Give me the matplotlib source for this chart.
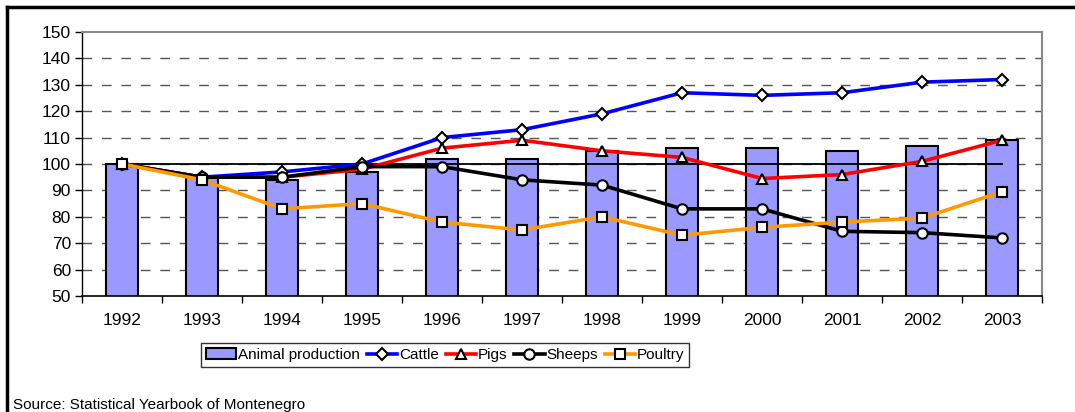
import matplotlib
matplotlib.use("Agg")
import matplotlib.pyplot as plt
from matplotlib.lines import Line2D
import numpy as np

# Дані з діаграми
years = ["1992", "1993", "1994", "1995", "1996", "1997", "1998", "1999", "2000", "2001", "2002", "2003"]
animal_production = [100, 95, 94, 97, 102, 102, 105, 106, 106, 105, 107, 109]
cattle = [100, 95, 97, 100, 110, 113, 119, 127, 126, 127, 131, 132]
pigs = [100, 95, 95, 98, 106, 109, 105, 102.5, 94.5, 96, 101, 109]
sheeps = [100, 95, 95, 99, 99, 94, 92, 83, 83, 74.5, 74, 72]
poultry = [100, 94, 83, 85, 78, 75, 80, 73, 76, 78, 79.5, 89.5]
base_line = [100] * len(years)

plt.rcParams['font.family'] = ['Liberation Sans', 'DejaVu Sans']

fig = plt.figure(figsize=(10.75, 4.12), dpi=100)
ax = fig.add_axes([0.0763, 0.2816, 0.8930, 0.6407])

x = np.arange(len(years))

bars = ax.bar(x, animal_production, width=0.4, color="#9999FF", edgecolor="black",
              linewidth=1.5, label="Animal production", zorder=2)
ax.plot(x, base_line, color="black", linewidth=1.3, zorder=3)

series = [
    (cattle, "#0000FF", "D", 6, "Cattle"),
    (pigs, "#FF0000", "^", 7.5, "Pigs"),
    (sheeps, "black", "o", 7.5, "Sheeps"),
    (poultry, "#FF9900", "s", 7.5, "Poultry"),
]
handles = [bars]
for vals, col, mk, ms, name in series:
    ln, = ax.plot(x, vals, color=col, linewidth=2.6, marker=mk, markersize=ms,
                  markerfacecolor="white", markeredgecolor="black", markeredgewidth=1.5,
                  label=name, zorder=4)
    handles.append(ln)

ax.set_xlim(-0.5, len(years) - 0.5)
ax.set_ylim(50, 150)
ax.set_yticks(range(50, 151, 10))
ax.set_xticks(x)
ax.set_xticklabels(years)
ax.set_xticks(np.arange(-0.5, len(years), 1), minor=True)
ax.tick_params(axis="x", which="major", length=0, pad=12, labelsize=12.5)
ax.tick_params(axis="x", which="minor", length=5, width=1, color="black", direction="out")
ax.tick_params(axis="y", length=5, width=1, direction="out", labelsize=12.5, pad=3)

for y in range(60, 150, 10):
    ax.axhline(y, color="#555555", linewidth=1, dashes=(7, 7), zorder=1)

ax.spines["top"].set_color("#888888")
ax.spines["right"].set_color("#888888")
ax.spines["top"].set_linewidth(1.5)
ax.spines["right"].set_linewidth(1.5)
ax.spines["left"].set_linewidth(1)
ax.spines["bottom"].set_linewidth(1.2)

leg = ax.legend(handles=handles, loc="center", bbox_to_anchor=(445 / 1075, 1 - 355 / 412),
                bbox_transform=fig.transFigure, ncol=5, frameon=True,
                fancybox=False, edgecolor="black", fontsize=11,
                handlelength=2.0, handletextpad=0.1, columnspacing=0.45,
                borderpad=0.3, borderaxespad=0)
leg.get_frame().set_linewidth(1)

# Рамка навколо рисунка (ліва та верхня)
fig.add_artist(Line2D([7 / 1075, 7 / 1075], [0, 1 - 7 / 412], color="black",
                      linewidth=2.5, transform=fig.transFigure))
fig.add_artist(Line2D([7 / 1075, 1], [1 - 7 / 412, 1 - 7 / 412], color="black",
                      linewidth=2.5, transform=fig.transFigure))

fig.text(13 / 1075, 1 - 405 / 412, "Source: Statistical Yearbook of Montenegro",
         fontsize=11, va="center", ha="left")

fig.savefig("out.png", dpi=100)
